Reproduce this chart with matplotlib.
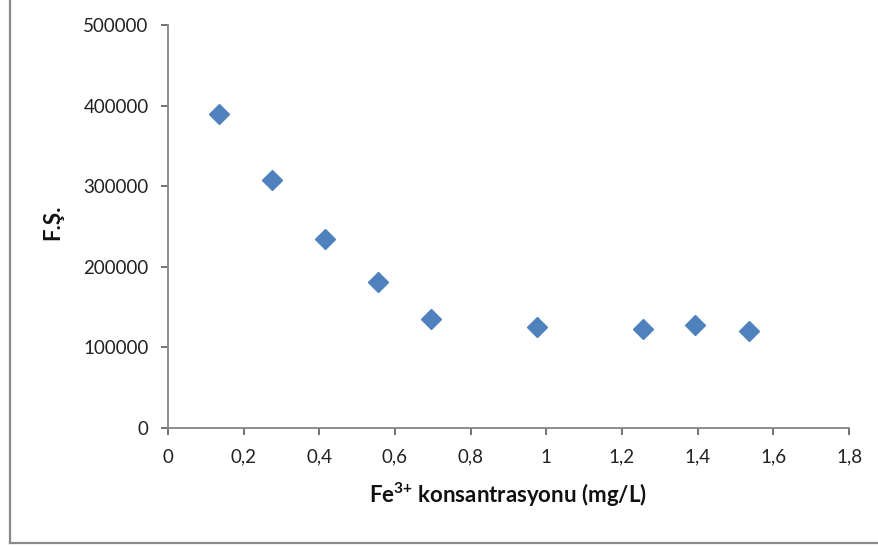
import matplotlib.pyplot as plt
from matplotlib.lines import Line2D
from matplotlib.ticker import FuncFormatter

# Fe3+ concentration (mg/L) vs fluorescence intensity
konsantrasyon = [0.136, 0.276, 0.415, 0.555, 0.695, 0.975, 1.255, 1.394, 1.537]
fs = [390000, 307500, 235000, 181000, 135500, 125000, 123000, 128000, 120500]

x_ticks = [0, 0.2, 0.4, 0.6, 0.8, 1.0, 1.2, 1.4, 1.6, 1.8]
y_ticks = [0, 100000, 200000, 300000, 400000, 500000]

plt.rcParams['font.family'] = ['Lato', 'DejaVu Sans']
plt.rcParams['mathtext.fontset'] = 'custom'
plt.rcParams['mathtext.rm'] = 'Lato'
plt.rcParams['mathtext.bf'] = 'Lato:bold'

fig = plt.figure(figsize=(8.79, 5.46), dpi=100)
W, H = 879, 546
ax = fig.add_axes([168 / W, 1 - 428 / H, (849 - 168) / W, (428 - 25) / H])

ax.plot(konsantrasyon, fs, linestyle='none', marker='D', markersize=10.5,
        color='#4F81BD', markeredgecolor='#4F81BD')

ax.set_xlim(0, 1.8)
ax.set_ylim(0, 500000)
ax.set_xticks(x_ticks)
ax.set_yticks(y_ticks)


def comma(v, pos):
    s = f'{v:g}'
    return s.replace('.', ',')


ax.xaxis.set_major_formatter(FuncFormatter(comma))
ax.yaxis.set_major_formatter(FuncFormatter(lambda v, p: f'{int(v)}'))

for side in ['top', 'right']:
    ax.spines[side].set_visible(False)
for side in ['left', 'bottom']:
    ax.spines[side].set_color('#868686')
    ax.spines[side].set_linewidth(1.3)

ax.tick_params(axis='both', direction='out', length=5, width=1.2,
               color='#5a5a5a', labelsize=13.5, labelcolor='#222222')
ax.tick_params(axis='y', pad=9)
ax.tick_params(axis='x', pad=10)

fig.text(53 / W, 1 - 222 / H, 'F.Ş.', rotation=90, ha='center', va='center',
         fontsize=16, fontweight='bold', color='#111111')
fig.text(508 / W, 1 - 495 / H, r'Fe$\mathbf{^{3{+}}}$ konsantrasyonu (mg/L)',
         ha='center', va='center', fontsize=16, fontweight='bold',
         color='#111111')

# chart area border (only left and bottom edges visible)
fig.add_artist(Line2D([10 / W, 10 / W], [1 - 543 / H, 1.01], color='#8a8a8a',
                      linewidth=1.6, transform=fig.transFigure))
fig.add_artist(Line2D([10 / W, 1.01], [1 - 543 / H, 1 - 543 / H], color='#8a8a8a',
                      linewidth=1.6, transform=fig.transFigure))

fig.savefig('out.png', dpi=100)
